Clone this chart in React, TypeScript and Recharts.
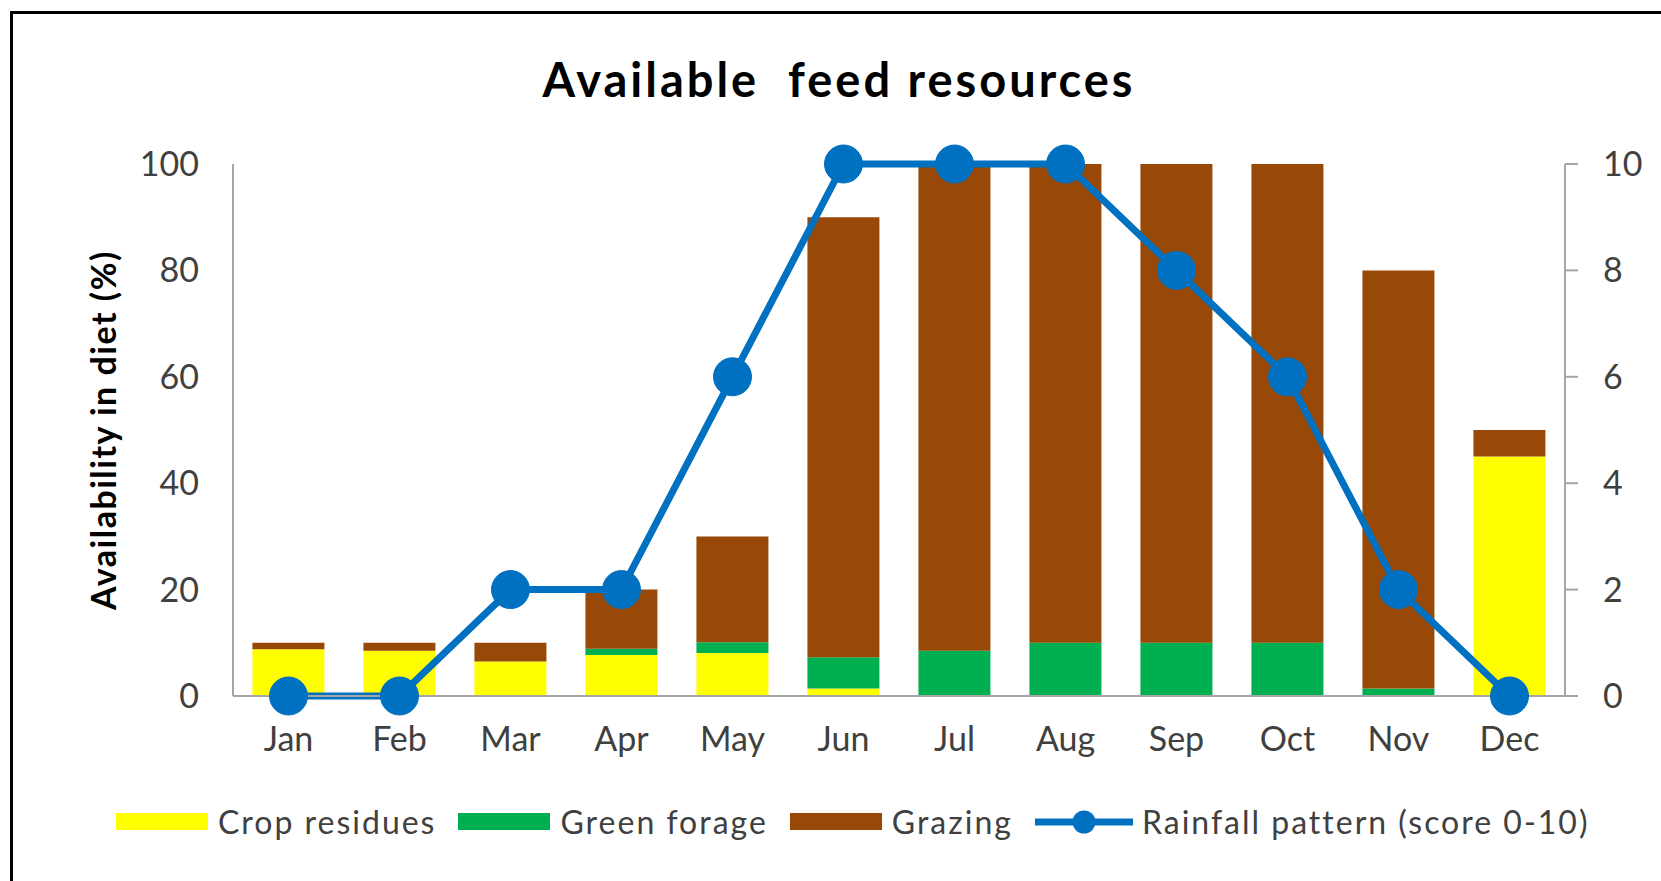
import { ComposedChart, Bar, Line, XAxis, YAxis } from 'recharts';

// values
const months = ['Jan', 'Feb', 'Mar', 'Apr', 'May', 'Jun', 'Jul', 'Aug', 'Sep', 'Oct', 'Nov', 'Dec'];
const cropResidues = [8.8, 8.5, 6.5, 7.7, 8.1, 1.4, 0, 0, 0, 0, 0, 45];
const greenForage = [0, 0, 0, 1.2, 2, 5.9, 8.5, 10, 10, 10, 1.4, 0];
const grazing = [1.2, 1.5, 3.5, 11.1, 19.9, 82.7, 91.5, 90, 90, 90, 78.6, 5];
const rainfall = [0, 0, 2, 2, 6, 10, 10, 10, 8, 6, 2, 0];
const leftTicks = [0, 20, 40, 60, 80, 100];
const rightTicks = [0, 2, 4, 6, 8, 10];

const YELLOW = '#FFFF00';
const GREEN = '#00B050';
const BROWN = '#984807';
const BLUE = '#0070C0';
const AXIS = '#A6A6A6';
const TEXT = '#404040';
const FONT = 'Lato, "Open Sans", sans-serif';

const data = months.map((m, i) => ({
  month: m,
  crop: cropResidues[i],
  green: greenForage[i],
  grazing: grazing[i],
  rain: rainfall[i],
}));

const tickStyle = { fontSize: 34, fill: TEXT, fontFamily: FONT };

const LegendBox = ({ color, label }: { color: string; label: string }) => (
  <div style={{ display: 'flex', alignItems: 'center', marginRight: 22 }}>
    <div style={{ width: 92, height: 17, background: color, marginRight: 10 }} />
    <span>{label}</span>
  </div>
);

const App = () => {
  return (
    <div
      style={{
        position: 'fixed',
        left: 0,
        top: 0,
        width: 1661,
        height: 881,
        overflow: 'hidden',
        background: '#fff',
        fontFamily: FONT,
      }}
    >
      {/* outer frame, runs off the right and bottom edge like in the screenshot */}
      <div
        style={{
          position: 'absolute',
          left: 10,
          top: 11,
          width: 1700,
          height: 900,
          border: '3px solid #000',
        }}
      />

      <div
        style={{
          position: 'absolute',
          left: 0,
          width: 1678,
          top: 51,
          textAlign: 'center',
          fontSize: 47,
          fontWeight: 700,
          letterSpacing: 3,
          color: '#000',
          whiteSpace: 'pre',
        }}
      >
        {'Available  feed resources'}
      </div>

      <div
        style={{
          position: 'absolute',
          left: 102,
          top: 430,
          transform: 'translate(-50%, -50%) rotate(-90deg)',
          whiteSpace: 'nowrap',
          fontSize: 34,
          fontWeight: 700,
          letterSpacing: 1.5,
          color: '#000',
        }}
      >
        Availability in diet (%)
      </div>

      <div style={{ position: 'absolute', left: 0, top: 0 }}>
        <ComposedChart
          width={1661}
          height={881}
          data={data}
          margin={{ top: 164, right: 16, bottom: 125, left: 153 }}
          barCategoryGap="17.5%"
        >
          <XAxis
            dataKey="month"
            tickLine={false}
            tickSize={0}
            tickMargin={31}
            height={60}
            stroke={AXIS}
            strokeWidth={2}
            tick={tickStyle}
          />
          <YAxis
            yAxisId="left"
            domain={[0, 100]}
            ticks={leftTicks}
            width={80}
            tickLine={false}
            tickSize={0}
            tickMargin={34}
            stroke={AXIS}
            strokeWidth={2}
            tick={tickStyle}
          />
          <YAxis
            yAxisId="right"
            orientation="right"
            domain={[0, 10]}
            ticks={rightTicks}
            width={80}
            tickSize={13}
            tickMargin={25}
            stroke={AXIS}
            strokeWidth={2}
            tick={tickStyle}
          />
          <Bar yAxisId="left" dataKey="crop" stackId="a" fill={YELLOW} isAnimationActive={false} />
          <Bar yAxisId="left" dataKey="green" stackId="a" fill={GREEN} isAnimationActive={false} />
          <Bar yAxisId="left" dataKey="grazing" stackId="a" fill={BROWN} isAnimationActive={false} />
          <Line
            yAxisId="right"
            dataKey="rain"
            stroke={BLUE}
            strokeWidth={7}
            dot={{ r: 19, fill: BLUE, stroke: BLUE, strokeWidth: 1 }}
            isAnimationActive={false}
          />
        </ComposedChart>
      </div>

      {/* legend */}
      <div
        style={{
          position: 'absolute',
          left: 116,
          top: 802,
          display: 'flex',
          alignItems: 'center',
          fontSize: 32,
          letterSpacing: 2,
          color: TEXT,
          whiteSpace: 'nowrap',
        }}
      >
        <LegendBox color={YELLOW} label="Crop residues" />
        <LegendBox color={GREEN} label="Green forage" />
        <LegendBox color={BROWN} label="Grazing" />
        <div style={{ display: 'flex', alignItems: 'center' }}>
          <svg width={98} height={26} style={{ marginRight: 9 }}>
            <line x1={0} y1={13} x2={98} y2={13} stroke={BLUE} strokeWidth={7} />
            <circle cx={49} cy={13} r={11.5} fill={BLUE} />
          </svg>
          <span>Rainfall pattern (score 0-10)</span>
        </div>
      </div>
    </div>
  );
};

export default App;
